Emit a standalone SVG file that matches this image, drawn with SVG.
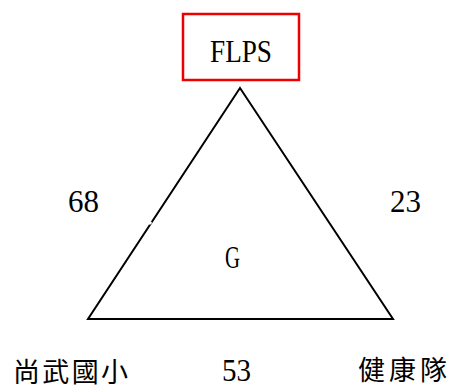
<svg xmlns="http://www.w3.org/2000/svg" width="454" height="389" viewBox="0 0 454 389">
<style>
.lat{font-family:"Liberation Serif",serif;font-size:32px;fill:#000}
.cjk{font-family:"Liberation Serif","Noto Sans CJK TC",serif;font-size:27px;fill:#000}
.edge{stroke:#000;stroke-width:2;fill:none}
</style>
<rect width="454" height="389" fill="#fff"/>
<g id="connectors">
<polygon class="edge" points="240,88 88,319 393,319" stroke-linejoin="miter"/>
<line x1="148" y1="220" x2="151" y2="224" stroke="#fff" stroke-width="3"/>
</g>
<g id="node-flps">
<rect x="183" y="14" width="116" height="66" fill="#fff" stroke="#e00" stroke-width="2.5"/>
<text class="lat" x="210" y="62" textLength="62" lengthAdjust="spacingAndGlyphs">FLPS</text>
</g>
<g id="node-g">
<text class="lat" x="225" y="268" textLength="15" lengthAdjust="spacingAndGlyphs">G</text>
</g>
<g id="label-68"><text class="lat" x="68" y="212" textLength="31" lengthAdjust="spacingAndGlyphs">68</text></g>
<g id="label-23"><text class="lat" x="390" y="212" textLength="31" lengthAdjust="spacingAndGlyphs">23</text></g>
<g id="label-53"><text class="lat" x="222" y="381" textLength="29" lengthAdjust="spacingAndGlyphs">53</text></g>
<g id="node-left"><text class="cjk" x="13" y="382" textLength="115" lengthAdjust="spacing">尚武國小</text></g>
<g id="node-right"><text class="cjk" x="358" y="380" textLength="89" lengthAdjust="spacing">健康隊</text></g>
</svg>
